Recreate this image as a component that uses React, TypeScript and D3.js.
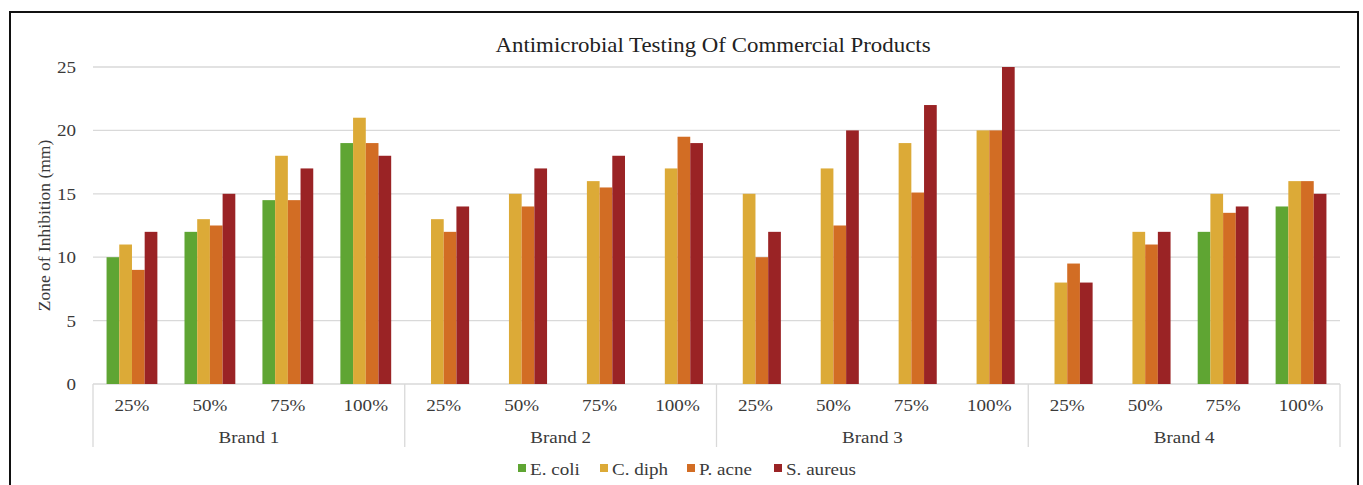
import React from "react";
import * as d3 from "d3";

const brands = ["Brand 1", "Brand 2", "Brand 3", "Brand 4"];
const concentrations = ["25%", "50%", "75%", "100%"];
const seriesNames = ["E. coli", "C. diph", "P. acne", "S. aureus"];
const seriesColors = ["#5fa533", "#dcaa37", "#d26d24", "#9a2325"];
// values per brand, per concentration (null = no bar)
const eColi = [10, 12, 14.5, 19, null, null, null, null, null, null, null, null, null, null, 12, 14];
const cDiph = [11, 13, 18, 21, 13, 15, 16, 17, 15, 17, 19, 20, 8, 12, 15, 16];
const pAcne = [9, 12.5, 14.5, 19, 12, 14, 15.5, 19.5, 10, 12.5, 15.1, 20, 9.5, 11, 13.5, 16];
const sAureus = [12, 15, 17, 18, 14, 17, 18, 19, 12, 20, 22, 25, 8, 12, 14, 15];
const yTicks = [0, 5, 10, 15, 20, 25];
const title = "Antimicrobial Testing Of Commercial Products";
const yTitle = "Zone of Inhibition (mm)";

const W = 1363, H = 485;
const plotLeft = 93, plotRight = 1340, plotTop = 67, plotBottom = 384;
const font = "'Liberation Serif', 'Times New Roman', serif";
const textColor = "#3a3a3a";
const SX = 1.09;
const FS = 17.5;

function HText(props: { x: number; y: number; anchor?: string; size?: number; fill?: string; children: React.ReactNode }) {
  const { x, y, anchor = "start", size = FS, fill = textColor, children } = props;
  return (
    <text
      transform={`translate(${x},${y}) scale(${SX},1)`}
      textAnchor={anchor}
      fontFamily={font}
      fontSize={size}
      fill={fill}
    >
      {children}
    </text>
  );
}

export default function App() {
  const series = [eColi, cDiph, pAcne, sAureus];
  const slots = brands.flatMap((b) => concentrations.map((c) => `${b}|${c}`));
  const x0 = d3.scaleBand<string>().domain(slots).range([plotLeft, plotRight]).paddingInner(0).paddingOuter(0);
  const x1 = d3.scaleBand<string>().domain(seriesNames).range([0, x0.bandwidth() * 0.652]);
  const groupOffset = (x0.bandwidth() - x0.bandwidth() * 0.652) / 2;
  const y = d3.scaleLinear().domain([0, 25]).range([plotBottom, plotTop]);
  const brandScale = d3.scaleBand<string>().domain(brands).range([plotLeft, plotRight]);

  const legendItems = [
    { x: 518, tx: 530 },
    { x: 600, tx: 612 },
    { x: 687, tx: 699 },
    { x: 774, tx: 786 },
  ];

  return (
    <svg width={W} height={H} style={{ position: "absolute", left: 0, top: 0, background: "#fff" }}>
      <rect x={10} y={12} width={1348} height={H} fill="#fff" stroke="#111" strokeWidth={2} />
      <HText x={713} y={52} anchor="middle" size={21} fill="#222">
        {title}
      </HText>
      {yTicks.map((t) => (
        <g key={t}>
          <line x1={plotLeft} x2={plotRight} y1={y(t)} y2={y(t)} stroke="#d9d9d9" strokeWidth={1.3} />
          <HText x={76} y={y(t) + 6} anchor="end">
            {t}
          </HText>
        </g>
      ))}
      <text
        transform={`translate(50, ${(plotTop + plotBottom) / 2}) rotate(-90)`}
        textAnchor="middle"
        fontFamily={font}
        fontSize={FS}
        fill={textColor}
      >
        {yTitle}
      </text>
      {series.map((vals, si) =>
        vals.map((v, i) =>
          v == null ? null : (
            <rect
              key={`${si}-${i}`}
              x={(x0(slots[i]) as number) + groupOffset + (x1(seriesNames[si]) as number)}
              y={y(v)}
              width={x1.bandwidth()}
              height={plotBottom - y(v)}
              fill={seriesColors[si]}
            />
          )
        )
      )}
      {[...brands.map((b) => brandScale(b) as number), plotRight].map((bx, i) => (
        <line key={i} x1={bx} x2={bx} y1={plotBottom} y2={447} stroke="#d9d9d9" strokeWidth={1.3} />
      ))}
      {slots.map((s) => (
        <HText key={s} x={(x0(s) as number) + x0.bandwidth() / 2} y={411} anchor="middle">
          {s.split("|")[1]}
        </HText>
      ))}
      {brands.map((b) => (
        <HText key={b} x={(brandScale(b) as number) + brandScale.bandwidth() / 2} y={443} anchor="middle">
          {b}
        </HText>
      ))}
      {seriesNames.map((n, i) => (
        <g key={n}>
          <rect x={legendItems[i].x} y={464} width={8} height={8} fill={seriesColors[i]} />
          <HText x={legendItems[i].tx} y={475}>
            {n}
          </HText>
        </g>
      ))}
    </svg>
  );
}
